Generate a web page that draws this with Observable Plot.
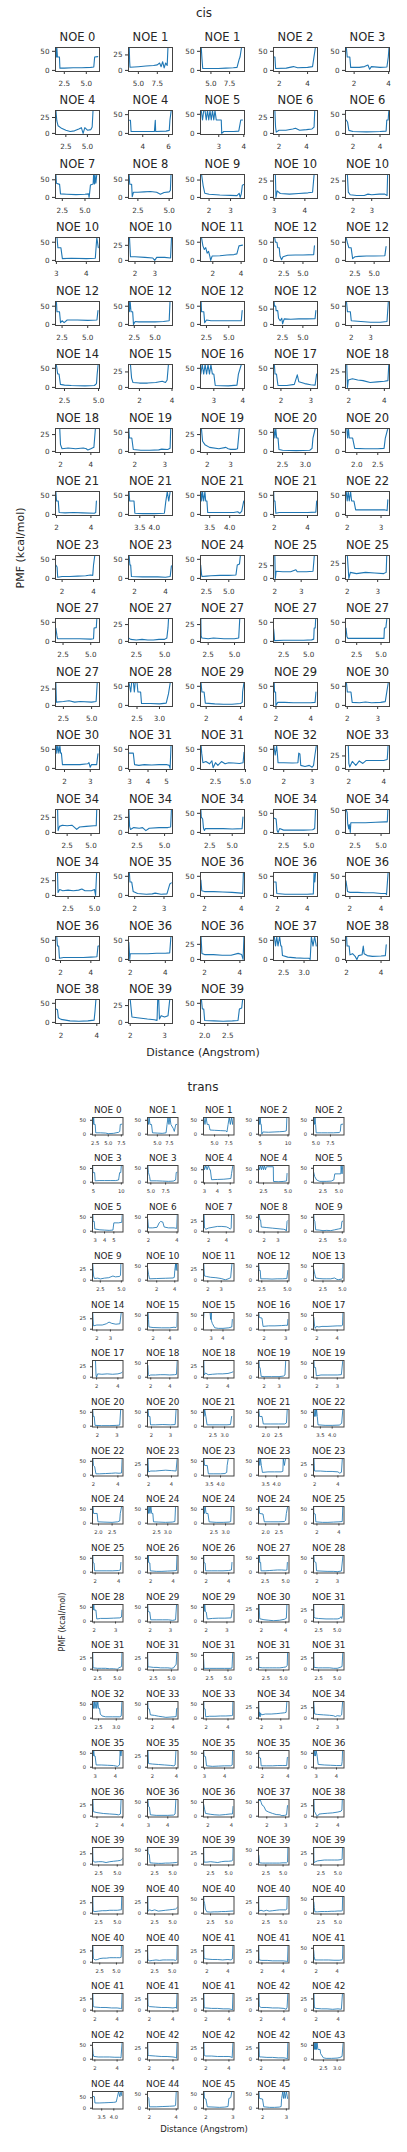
<!DOCTYPE html>
<html><head><meta charset="utf-8">
<script src="https://cdn.jsdelivr.net/npm/d3@7"></script>
<script src="https://cdn.jsdelivr.net/npm/@observablehq/plot@0.6"></script>
<style>
body{margin:0;background:#fff;}
#root{position:relative;width:407px;height:2152px;overflow:hidden;font-family:"DejaVu Sans",sans-serif;color:#262626;}
.lbl{position:absolute;white-space:nowrap;line-height:1;}
</style></head><body><div id="root"></div>
<script>
// ---------------- CIS DATA ----------------
const cisNoe = [0,1,1,2,3, 4,4,5,6,6, 7,8,9,10,10, 10,10,11,12,12, 12,12,12,12,13, 14,15,16,17,18, 18,19,19,20,20, 21,21,21,21,22, 23,23,24,25,25, 27,27,27,27,27, 27,28,29,29,30, 30,31,31,32,33, 34,34,34,34,34, 34,35,36,36,36, 36,36,36,37,38, 38,39,39];
const cisXDomain = [[1.5,6.5],[3.7,9.5],[3.6,9.5],[1.6,4.7],[1.5,4.05],
[1.3,6.4],[2.9,6.3],[2.27,4.03],[1.6,4.8],[1.45,4.7],
[1.75,6.6],[1.75,5.27],[1.6,3.65],[2.98,4.41],[1.6,3.95],
[2.97,4.44],[1.67,3.9],[1.13,4.24],[1.15,6.9],[1.27,7.0],
[1.86,6.15],[1.8,7.1],[1.83,6.76],[1.38,6.8],[1.7,3.98],
[1.84,5.07],[1.33,4.03],[2.54,4.06],[1.75,3.23],[1.81,4.29],
[1.67,4.57],[1.79,3.26],[1.71,3.6],[2.3,3.27],[1.73,2.78],
[1.94,4.5],[3.11,4.63],[3.27,4.37],[1.96,4.6],[1.95,3.25],
[1.58,4.38],[1.61,4.45],[1.83,6.76],[1.95,3.62],[1.94,3.39],
[1.82,5.79],[1.8,5.7],[1.77,5.95],[1.49,5.88],[1.35,5.87],
[1.8,5.7],[2.31,3.29],[1.67,4.23],[1.86,4.39],[1.94,3.39],
[1.65,3.36],[2.94,5.33],[1.25,4.92],[1.64,3.19],[1.81,4.33],
[1.28,5.89],[1.72,5.72],[1.46,6.37],[1.49,5.88],[1.59,5.81],
[1.31,5.47],[1.79,3.29],[1.78,4.18],[1.73,4.68],[1.72,4.54],
[1.67,4.57],[1.9,4.41],[1.77,4.26],[2.25,3.33],[1.94,4.49],
[1.69,4.15],[1.95,3.23],[1.91,2.86]];
const cisXTicks = [[2.5,5],[5,7.5],[5,7.5],[2,4],[2,4],
[2.5,5],[4,6],[3,4],[2,4],[2,4],
[2.5,5],[2.5,5],[2,3],[3,4],[2,3],
[3,4],[2,3],[2,4],[2.5,5],[2.5,5],
[2.5,5],[2.5,5],[2.5,5],[2.5,5],[2,3],
[2.5,5],[2,4],[3,4],[2,3],[2,4],
[2,4],[2,3],[2,3],[2.5,3],[2,2.5],
[2,4],[3.5,4],[3.5,4],[2,4],[2,3],
[2,4],[2,4],[2.5,5],[2,3],[2,3],
[2.5,5],[2.5,5],[2.5,5],[2.5,5],[2.5,5],
[2.5,5],[2.5,3],[2,4],[2,4],[2,3],
[2,3],[3,4,5],[2.5,5],[2,3],[2,4],
[2.5,5],[2.5,5],[2.5,5],[2.5,5],[2.5,5],
[2.5,5],[2,3],[2,4],[2,4],[2,4],
[2,4],[2,4],[2,4],[2.5,3],[2,4],
[2,4],[2,3],[2,2.5]];
const cisYMax = [60,37,60,60,60, 36,61,60,36,60, 65,66,66,35,35, 63,38,63,63,63, 63,63,63,75,63, 60,37,60,60,37, 34,60,34,60,60, 60,60,60,60,60, 60,60,60,45,38, 60,34,34,60,60, 35,60,60,60,60, 60,60,60,60,46, 38,38,60,60,52, 39,60,60,60,60, 60,60,38,60,60, 60,34,60];
const cisCurves = [
[[1.55,60],[1.6,35],[1.65,60],[1.72,35],[1.95,35],[2.0,6],[2.5,6],[3.5,7],[4.5,7],[5.5,8],[5.85,9],[5.95,35],[6.3,36]],
[[3.8,37],[3.85,15],[3.9,5],[5,6],[6,7],[7,8],[7.5,9],[7.8,12],[8.0,6],[8.2,14],[8.4,4],[8.6,12],[8.8,8],[8.9,37]],
[[3.7,60],[3.8,30],[3.9,5],[5,5],[6,5],[7,6],[8,7],[8.5,8],[8.8,30],[8.9,35],[9.1,60]],
[[1.62,35],[1.7,35],[1.75,5],[2.5,6],[3.0,10],[3.3,7],[4.0,8],[4.35,10],[4.45,35],[4.55,60]],
[[1.55,60],[1.6,35],[1.75,35],[1.8,8],[2.3,8],[2.6,10],[2.8,14],[2.9,3],[3.0,10],[3.5,8],[3.9,9],[3.98,35],[4.02,60]],
[[1.35,36],[1.45,20],[1.6,12],[2.0,8],[2.5,5],[3.0,3],[3.5,4],[4.0,7],[4.3,9],[4.5,0],[4.7,9],[5.0,5],[5.4,6],[5.55,10],[5.65,36]],
[[2.92,35],[3.05,35],[3.1,5],[4.0,5],[4.9,5],[4.97,35],[5.0,5],[5.8,6],[6.05,8],[6.1,35],[6.2,61]],
[[2.3,60],[2.35,35],[2.4,60],[2.45,60],[2.5,35],[2.55,60],[2.6,35],[2.65,60],[2.7,35],[2.75,60],[2.8,35],[2.85,60],[2.9,35],[3.1,35],[3.12,0],[3.2,5],[3.6,5],[3.8,6],[3.88,35],[3.95,35]],
[[1.7,36],[1.75,10],[1.8,2],[2.0,5],[2.5,5],[3.0,7],[3.2,8],[3.5,5],[4.0,6],[4.4,7],[4.55,10],[4.6,36]],
[[1.5,35],[1.6,30],[1.7,8],[2.0,5],[3.0,4],[4.0,5],[4.45,6],[4.5,35],[4.6,35],[4.65,60]],
[[1.8,65],[1.85,40],[2.2,37],[2.3,10],[3,9],[4,8],[5,9],[5.4,10],[5.45,0],[5.5,10],[5.6,35],[5.9,38],[5.95,65],[6.05,38],[6.1,65],[6.2,40],[6.3,65]],
[[1.8,66],[1.85,38],[2.0,38],[2.05,2],[2.15,15],[2.5,15],[3,16],[3.5,17],[4.0,15],[4.3,9],[4.6,14],[5.0,16],[5.1,20],[5.15,66]],
[[1.65,66],[1.72,35],[1.8,12],[2.0,9],[2.5,7],[3.0,6],[3.3,5],[3.4,12],[3.45,0],[3.5,10],[3.55,35],[3.62,37]],
[[3.04,35],[3.06,0],[3.1,10],[3.2,6],[3.5,5],[3.8,6],[4.1,7],[4.25,8],[4.3,35],[4.4,35]],
[[1.7,35],[1.75,8],[1.85,4],[2.2,3],[2.6,3],[2.8,5],[3.0,4],[3.4,5],[3.7,5],[3.82,3],[3.85,35]],
[[3.02,63],[3.05,35],[3.15,35],[3.2,5],[3.5,6],[4.0,5],[4.3,6],[4.35,63],[4.4,35]],
[[1.72,38],[1.77,6],[2.0,6],[2.5,5],[2.9,4],[3.0,0],[3.1,5],[3.5,5],[3.8,4],[3.85,38]],
[[1.2,63],[1.3,40],[1.4,30],[1.5,35],[1.6,20],[1.7,25],[1.8,10],[1.85,0],[1.95,12],[2.5,13],[3.0,15],[3.5,16],[3.7,18],[3.85,40],[4.1,42]],
[[1.3,63],[1.4,50],[1.6,50],[1.7,35],[1.9,35],[2.0,12],[2.2,2],[2.4,10],[3,14],[4,15],[5,15],[6.4,16],[6.5,40]],
[[1.35,63],[1.5,50],[1.7,35],[2.0,35],[2.2,5],[2.5,10],[3,11],[4,12],[5,12],[6.4,13],[6.55,38]],
[[1.95,63],[2.0,35],[2.25,35],[2.35,5],[2.5,10],[2.7,5],[3.0,12],[4,12],[5,11],[5.9,12],[6.0,38]],
[[1.85,63],[1.9,35],[2.0,63],[2.1,35],[2.3,35],[2.4,0],[2.6,8],[3,7],[4,7],[5,7],[6,8],[6.7,10],[6.8,63]],
[[1.9,63],[1.95,35],[2.2,35],[2.3,5],[2.5,12],[3,10],[4,10],[5,10],[6.4,10],[6.5,38]],
[[1.45,75],[1.5,60],[1.65,60],[1.7,45],[1.9,45],[2.0,20],[2.2,12],[2.4,20],[2.5,2],[2.7,18],[3.5,17],[4.5,18],[5.5,18],[6.5,19],[6.6,45]],
[[1.75,63],[1.8,35],[1.95,35],[2.0,10],[2.5,8],[3.0,6],[3.5,6],[3.85,8],[3.92,63]],
[[1.9,60],[2.0,35],[2.1,35],[2.2,8],[2.5,6],[3,5],[4,4],[4.7,5],[4.85,10],[4.9,35],[4.97,60]],
[[1.45,37],[1.52,15],[1.6,8],[2,7],[2.5,7],[3,8],[3.4,10],[3.6,8],[3.7,12],[3.78,37]],
[[2.55,35],[2.6,60],[2.65,35],[2.7,60],[2.75,35],[2.8,60],[2.85,35],[2.9,60],[2.95,35],[3.0,35],[3.05,5],[3.5,4],[3.8,6],[3.85,35],[3.95,60]],
[[1.78,60],[1.8,35],[1.85,35],[1.9,5],[2.2,5],[2.45,8],[2.55,33],[2.6,15],[2.8,10],[3.0,7],[3.15,6],[3.2,35]],
[[1.88,37],[1.92,0],[1.97,12],[2.2,14],[2.5,12],[2.8,11],[3.2,8],[3.6,9],[4.0,10],[4.2,11],[4.25,37]],
[[1.7,34],[1.95,34],[2.0,10],[2.1,4],[2.5,5],[3.0,4],[3.5,5],[3.7,4],[3.8,2],[4.0,4],[4.2,6],[4.3,34],[4.5,34]],
[[1.8,60],[1.82,35],[1.9,35],[1.95,5],[2.2,3],[2.5,3],[2.8,4],[2.9,6],[3.1,5],[3.18,8],[3.2,60]],
[[1.75,34],[1.8,15],[1.9,10],[2.1,6],[2.5,4],[2.8,6],[2.9,4],[3.0,3],[3.2,3],[3.3,4],[3.38,34]],
[[2.31,60],[2.33,35],[2.35,60],[2.37,35],[2.4,35],[2.42,5],[2.5,3],[2.8,2],[3.1,3],[3.15,8],[3.17,35],[3.22,60]],
[[1.76,60],[1.78,35],[1.8,60],[1.82,35],[1.9,35],[1.95,8],[2.2,7],[2.5,7],[2.65,8],[2.68,35],[2.74,60]],
[[1.96,60],[2.0,35],[2.1,35],[2.15,5],[2.5,4],[3,5],[3.5,4],[4.2,3],[4.28,5],[4.32,35]],
[[3.13,60],[3.15,35],[3.3,35],[3.33,3],[3.6,2],[4.0,2],[4.35,3],[4.4,35],[4.45,60],[4.5,35],[4.55,60]],
[[3.28,60],[3.3,35],[3.32,60],[3.35,35],[3.38,60],[3.4,35],[3.43,35],[3.45,5],[3.8,5],[4.1,5],[4.2,7],[4.25,3],[4.3,8],[4.35,35]],
[[1.97,60],[1.99,35],[2.05,35],[2.1,3],[2.3,5],[3,5],[4,5],[4.5,6],[4.55,35]],
[[1.97,60],[2.0,35],[2.03,60],[2.06,35],[2.1,60],[2.13,35],[2.2,35],[2.25,12],[2.5,12],[2.8,12],[3.1,12],[3.18,10],[3.2,38]],
[[1.6,35],[1.68,30],[1.72,3],[2.0,5],[2.5,5],[3,6],[3.5,7],[3.8,9],[3.95,8],[4.0,35],[4.08,60]],
[[1.65,60],[1.7,35],[1.75,35],[1.8,5],[2.5,4],[3,4],[3.5,4],[4.0,3],[4.3,5],[4.38,33]],
[[1.85,35],[1.95,10],[2.0,5],[2.5,6],[3,7],[4,8],[5,8],[5.8,9],[5.95,35],[6.2,38],[6.3,60]],
[[2.0,45],[2.02,0],[2.05,14],[2.3,13],[2.6,13],[2.8,17],[2.85,13],[3.2,13],[3.45,14],[3.5,45]],
[[2.0,38],[2.05,0],[2.1,10],[2.3,8],[2.6,10],[2.9,9],[3.2,8],[3.28,10],[3.3,38]],
[[1.85,35],[1.95,15],[2.0,7],[3,7],[4,7],[5,6],[5.25,7],[5.3,35],[5.5,36],[5.55,60]],
[[1.8,5],[2.0,3],[2.5,2],[3,3],[3.5,2],[4,2],[4.5,3],[5.0,3],[5.2,5],[5.3,20],[5.35,34]],
[[1.8,34],[1.83,8],[1.9,5],[2.5,4],[3,5],[4,4],[5,4],[5.4,5],[5.5,34]],
[[1.5,33],[1.55,20],[1.6,2],[2.5,3],[3.5,3],[4.5,3],[5.3,4],[5.5,6],[5.55,35],[5.65,35],[5.7,60]],
[[1.4,35],[1.5,12],[1.6,8],[2.5,8],[3.5,8],[4.5,8],[5.3,8],[5.35,35],[5.5,36],[5.6,60]],
[[1.83,35],[1.88,5],[2.5,6],[3,7],[3.5,5],[4,6],[5,5],[5.4,6],[5.5,35]],
[[2.32,60],[2.36,35],[2.38,60],[2.42,60],[2.44,35],[2.46,60],[2.5,60],[2.52,35],[2.58,35],[2.6,5],[2.8,5],[3.0,4],[3.15,6],[3.2,30],[3.24,60]],
[[1.7,60],[1.75,35],[1.88,35],[1.95,6],[2.5,4],[3,3],[3.5,3],[4.0,5],[4.1,8],[4.12,35],[4.2,60]],
[[1.9,60],[1.92,35],[1.98,35],[2.0,0],[2.1,8],[2.5,8],[3,7],[3.5,7],[4.0,7],[4.25,8],[4.3,35]],
[[1.97,60],[2.0,35],[2.12,35],[2.16,8],[2.4,7],[2.6,9],[2.8,7],[3.1,8],[3.25,10],[3.3,35],[3.35,60]],
[[1.68,60],[1.7,40],[1.74,60],[1.78,40],[1.82,60],[1.85,40],[1.88,40],[1.92,10],[2.3,10],[2.6,10],[2.9,12],[2.95,15],[3.0,3],[3.05,10],[3.25,10],[3.3,38]],
[[2.95,40],[3.2,40],[3.27,10],[3.5,8],[3.8,10],[4.2,9],[4.6,10],[5.0,10],[5.15,8],[5.2,0],[5.25,60]],
[[1.3,60],[1.35,40],[1.45,15],[1.7,18],[2.0,12],[2.2,20],[2.3,2],[2.5,15],[2.7,8],[3.0,18],[3.3,12],[3.6,15],[4.0,14],[4.5,13],[4.8,15],[4.88,42]],
[[1.65,60],[1.7,35],[1.75,60],[1.78,35],[1.8,15],[2.0,15],[2.3,14],[2.5,15],[2.53,40],[2.57,38],[2.6,8],[2.75,5],[2.9,8],[3.0,3],[3.05,8],[3.1,35],[3.15,60]],
[[1.83,46],[1.97,46],[2.0,10],[2.05,3],[2.2,14],[2.4,6],[2.6,15],[2.8,10],[3.0,16],[3.5,16],[4.0,16],[4.2,18],[4.25,46]],
[[1.4,38],[1.5,38],[1.55,3],[1.7,10],[2.0,12],[2.5,11],[3.0,12],[3.3,8],[3.5,5],[3.8,9],[4.5,10],[5.3,11],[5.55,11],[5.6,38]],
[[1.76,38],[1.82,10],[1.9,5],[2.2,8],[2.7,7],[3.0,8],[3.3,3],[3.6,7],[4.5,8],[5.3,8],[5.55,9],[5.62,38]],
[[1.5,60],[1.55,40],[1.7,35],[1.8,10],[1.9,5],[2.0,10],[3,10],[4,10],[5,9],[6.1,10],[6.2,40]],
[[1.52,38],[1.75,35],[1.85,5],[1.95,0],[2.1,10],[2.5,6],[3.5,6],[4.5,6],[5.4,7],[5.6,10],[5.68,60]],
[[1.65,52],[1.75,45],[1.8,20],[1.9,8],[1.95,18],[2.05,0],[2.1,22],[2.5,22],[3.5,22],[4.5,23],[5.4,24],[5.6,24],[5.65,52]],
[[1.35,39],[1.5,39],[1.55,5],[1.7,10],[2.0,8],[2.5,9],[3.0,8],[3.5,9],[3.8,11],[4.1,8],[4.7,8],[5.0,10],[5.1,0],[5.2,39]],
[[1.82,60],[1.84,35],[1.9,35],[1.95,10],[2.1,5],[2.4,3],[2.6,4],[2.7,6],[2.9,3],[3.1,4],[3.2,30],[3.25,33]],
[[1.8,40],[1.85,12],[2.0,10],[2.5,10],[3.0,9],[3.5,8],[4.0,6],[4.08,5],[4.12,60]],
[[1.75,35],[1.9,35],[1.95,5],[2.5,3],[3,3],[3.5,3],[4.0,3],[4.4,4],[4.45,60],[4.5,35],[4.55,60]],
[[1.75,38],[1.85,10],[2.0,8],[2.5,8],[3,7],[3.5,7],[4.0,5],[4.3,5],[4.35,2],[4.45,60]],
[[1.75,60],[1.8,35],[1.88,35],[1.93,3],[2.2,5],[3,5],[3.5,5],[4.0,6],[4.4,7],[4.47,35],[4.52,35]],
[[1.92,45],[1.95,20],[1.97,0],[2.0,15],[2.5,15],[3,15],[3.5,16],[4.0,16],[4.25,17],[4.32,60]],
[[1.8,38],[1.85,10],[2.0,8],[2.5,8],[3,7],[3.5,7],[3.9,10],[4.1,8],[4.18,0],[4.23,38]],
[[2.27,60],[2.3,35],[2.33,60],[2.36,35],[2.4,60],[2.43,35],[2.45,35],[2.47,10],[2.6,6],[2.8,4],[3.0,3],[3.12,3],[3.15,0],[3.18,60],[3.22,35],[3.26,60],[3.3,35]],
[[2.0,60],[2.03,35],[2.15,35],[2.2,12],[2.35,15],[2.5,8],[2.6,0],[2.7,10],[2.9,12],[2.97,35],[3.02,15],[3.2,10],[3.5,8],[4.0,9],[4.25,10],[4.3,38]],
[[1.72,35],[1.8,33],[1.85,12],[2.0,8],[2.5,4],[3.0,3],[3.5,4],[3.85,6],[3.9,30],[3.95,60]],
[[2.0,34],[2.05,8],[2.2,7],[2.5,5],[2.7,4],[2.78,3],[2.8,34],[2.83,34],[2.85,5],[2.9,10],[3.0,8],[3.1,10],[3.15,34]],
[[1.93,60],[1.95,35],[1.98,35],[2.0,5],[2.2,4],[2.4,3],[2.6,4],[2.72,5],[2.75,35],[2.8,38],[2.82,60]]
];

// ---------------- TRANS DATA ----------------
const transNoe = [0,1,1,2,2, 3,3,4,4,5, 5,6,7,8,9, 9,10,11,12,13, 14,15,15,16,17, 17,18,18,19,19, 20,20,21,21,22, 22,23,23,23,23, 24,24,24,24,25, 25,26,26,27,28, 28,29,29,30,31, 31,31,31,31,31, 32,33,33,34,34, 35,35,35,35,36, 36,36,36,37,38, 39,39,39,39,39, 39,40,40,40,40, 40,40,41,41,41, 41,41,41,42,42, 42,42,42,42,43, 44,44,45,45];
const transXDomain = [[1.98,7.82],[2.97,9.26],[3.04,8.45],[4.7,10.18],[4.59,9.83],
[4.82,10.3],[4.44,9.6],[2.92,5.29],[1.99,5.1],[1.01,5.8],
[2.71,5.98],[1.93,4.07],[1.43,4.87],[1.6,3.79],[1.27,5.22],
[1.57,5.2],[0.98,4.36],[1.68,3.95],[2.18,5.16],[1.27,5.22],
[1.68,3.93],[1.33,4.98],[2.34,4.94],[1.74,3.15],[1.67,4.67],
[1.62,4.48],[1.66,4.86],[1.65,4.58],[1.62,3.67],[1.83,3.33],
[1.74,3.32],[1.79,3.4],[2.1,3.4],[1.71,2.92],[3.21,4.5],
[1.92,4.42],[1.91,4.57],[3.23,4.61],[3.17,4.56],[1.91,4.52],
[1.78,2.9],[2.09,3.46],[2.06,3.36],[1.73,2.88],[1.69,4.46],
[1.77,4.38],[1.71,4.44],[1.76,4.48],[1.69,5.4],[1.83,3.33],
[1.92,3.35],[1.87,3.37],[1.87,3.34],[1.75,4.27],[1.82,5.91],
[1.85,5.73],[1.68,5.91],[1.68,5.82],[1.46,5.8],[1.82,5.91],
[2.33,3.19],[1.52,4.48],[1.75,4.55],[1.84,3.43],[1.79,3.34],
[2.87,4.37],[1.59,4.14],[2.95,4.47],[1.69,4.08],[2.87,4.37],
[1.65,4.05],[2.95,4.53],[1.63,4.23],[1.56,3.18],[1.68,4.58],
[1.68,5.77],[1.5,5.73],[1.53,5.74],[1.44,5.86],[1.4,5.9],
[1.68,5.77],[1.5,5.73],[1.55,5.68],[1.44,5.86],[1.4,5.9],
[1.42,5.98],[1.49,5.82],[1.68,4.58],[1.68,4.54],[1.75,4.66],
[1.79,4.53],[1.83,4.43],[1.79,4.44],[1.76,4.45],[1.76,4.54],
[1.79,4.53],[1.83,4.43],[1.79,4.44],[1.76,4.45],[2.14,3.25],
[3.12,4.38],[1.85,4.13],[1.91,3.04],[1.83,3.11]];
const transXTicks = [[2.5,5,7.5],[5,7.5],[5,7.5],[5,10],[5,7.5],
[5,10],[5,7.5],[3,4,5],[2.5,5],[2.5,5],
[3,4,5],[2,4],[2,4],[2,3],[2.5,5],
[2.5,5],[2,4],[2,3],[2.5,5],[2.5,5],
[2,3],[2,4],[3,4],[2,3],[2,4],
[2,4],[2,4],[2,4],[2,3],[2,3],
[2,3],[2,3],[2.5,3],[2,2.5],[3.5,4],
[2,4],[2,4],[3.5,4],[3.5,4],[2,4],
[2,2.5],[2.5,3],[2.5,3],[2,2.5],[2,4],
[2,4],[2,4],[2,4],[2.5,5],[2,3],
[2,3],[2,3],[2,3],[2,4],[2.5,5],
[2.5,5],[2.5,5],[2.5,5],[2.5,5],[2.5,5],
[2.5,3],[2,4],[2,4],[2,3],[2,3],
[3,4],[2,4],[3,4],[2,4],[3,4],
[2,4],[3,4],[2,4],[2,3],[2,4],
[2.5,5],[2.5,5],[2.5,5],[2.5,5],[2.5,5],
[2.5,5],[2.5,5],[2.5,5],[2.5,5],[2.5,5],
[2.5,5],[2.5,5],[2,4],[2,4],[2,4],
[2,4],[2,4],[2,4],[2,4],[2,4],
[2,4],[2,4],[2,4],[2,4],[2.5,3],
[3.5,4],[2,4],[2,3],[2,3]];
const transYMax = [60,60,60,60,60, 61,60,67,67,60, 60,60,42,60,60, 40,60,40,60,60, 40,60,60,60,60, 40,60,40,60,60, 60,60,60,60,60, 60,40,60,60,40, 60,60,60,60,60, 60,60,60,60,60, 60,60,60,34,37, 37,37,60,37,37, 60,60,60,40,40, 60,37,60,60,60, 37,60,60,60,40, 40,60,40,60,40, 40,40,60,40,60, 37,37,37,37,60, 37,37,37,37,37, 60,37,37,37,60, 80,60,60,60];
const transCurves = [
[[2.0,60],[2.1,35],[2.2,60],[2.3,35],[2.5,35],[2.6,5],[3.5,5],[4.5,4],[5.0,2],[6,3],[7.0,7],[7.2,10],[7.3,35],[7.6,36]],
[[3.0,60],[3.2,35],[3.3,60],[3.5,35],[3.8,35],[4.0,5],[5,4],[6,3],[6.8,5],[7.0,35],[7.2,60],[7.4,35],[7.6,60],[7.8,35],[8.3,20],[8.5,10],[8.8,35],[9.0,35]],
[[3.1,60],[3.3,35],[3.5,60],[3.7,35],[4.0,35],[4.2,15],[5,14],[6,13],[7,12],[7.2,8],[7.4,35],[7.6,60],[7.8,35],[8.0,60],[8.2,35],[8.35,60]],
[[4.8,60],[4.9,35],[5.0,60],[5.1,35],[5.2,35],[5.3,0],[5.5,8],[6.5,7],[7.5,8],[8.5,9],[9.3,10],[9.7,12],[9.8,60]],
[[4.65,60],[4.75,35],[4.85,60],[4.95,35],[5.05,5],[6,5],[7,5],[8,5],[9.0,6],[9.2,10],[9.3,35],[9.6,36]],
[[4.85,61],[4.9,35],[5.2,35],[5.3,5],[6,6],[7,6],[8,6],[9,6],[9.5,8],[9.7,35],[9.9,35],[10.0,61]],
[[4.5,60],[4.6,35],[4.8,20],[4.9,5],[6,5],[7,4],[8,3],[8.8,4],[9.2,8],[9.3,35],[9.5,36]],
[[2.95,67],[3.0,50],[3.1,67],[3.2,50],[3.3,67],[3.4,50],[3.45,50],[3.55,10],[4,11],[4.5,12],[4.9,14],[5.05,15],[5.1,35],[5.2,67]],
[[2.0,67],[2.1,50],[2.2,67],[2.3,50],[2.4,67],[2.5,50],[2.6,67],[2.7,50],[2.8,62],[3.5,62],[3.52,3],[4,2],[4.5,3],[4.85,5],[4.9,35]],
[[1.05,35],[1.2,20],[1.5,8],[2,3],[3,3],[3.8,4],[4.2,8],[4.35,30],[5.0,30],[5.3,30],[5.35,60],[5.5,30],[5.6,60]],
[[2.75,60],[2.78,35],[2.9,35],[2.95,8],[3.5,5],[4.0,4],[4.5,3],[4.9,4],[5.0,30],[5.5,30],[5.85,32],[5.9,60]],
[[1.95,42],[2.0,12],[2.3,12],[2.6,14],[2.75,30],[2.85,35],[3.0,33],[3.1,15],[3.4,12],[3.8,12],[3.98,10],[4.02,60]],
[[1.5,42],[1.55,8],[1.7,5],[2.0,8],[2.5,10],[3.0,12],[3.5,12],[4.0,11],[4.3,8],[4.45,5],[4.55,8],[4.6,42]],
[[1.65,60],[1.7,40],[1.75,40],[1.8,15],[2.2,13],[2.6,11],[3.0,9],[3.4,7],[3.55,5],[3.6,0],[3.65,35],[3.7,38]],
[[1.3,60],[1.35,40],[1.45,35],[1.55,5],[2.0,4],[2.5,2],[3.0,3],[3.5,2],[4.0,5],[4.5,8],[4.85,10],[4.95,35],[5.05,36]],
[[1.6,40],[1.7,10],[1.8,4],[2.2,5],[2.5,3],[3.0,5],[3.5,6],[4.0,10],[4.3,8],[4.8,9],[4.9,12],[4.95,40]],
[[1.0,42],[1.1,20],[1.2,5],[2,6],[3,7],[3.8,8],[3.95,10],[4.0,35],[4.1,60],[4.15,35],[4.2,60],[4.3,35]],
[[1.7,40],[1.75,10],[1.9,9],[2.2,7],[2.6,6],[3.0,4],[3.3,1],[3.5,3],[3.7,6],[3.8,40]],
[[2.2,60],[2.25,35],[2.35,35],[2.4,5],[3,5],[3.5,4],[4,5],[4.5,5],[4.95,6],[5.05,35]],
[[1.3,40],[1.45,20],[1.55,8],[2,6],[2.5,5],[3,5],[3.5,5],[4.0,8],[4.3,3],[4.5,2],[4.9,4],[5.05,8],[5.1,60]],
[[1.7,40],[1.75,8],[2.0,10],[2.4,10],[2.7,13],[2.9,17],[3.1,14],[3.4,12],[3.7,13],[3.8,40]],
[[1.4,60],[1.45,35],[1.5,8],[2,6],[3,5],[4,5],[4.5,7],[4.75,6],[4.85,10],[4.9,60]],
[[2.35,40],[2.38,60],[2.9,60],[2.95,35],[3.0,60],[3.02,30],[3.1,20],[3.3,5],[3.6,3],[4.0,3],[4.5,5],[4.75,8],[4.8,35]],
[[1.75,60],[1.78,42],[1.9,40],[1.95,10],[2.2,12],[2.5,12],[2.8,13],[3.0,14],[3.08,14],[3.1,35]],
[[1.7,42],[1.78,10],[1.85,3],[1.95,10],[2.2,8],[2.5,10],[3,10],[3.5,11],[4,12],[4.4,12],[4.52,14],[4.57,60]],
[[1.65,40],[1.9,40],[1.95,5],[2.0,0],[2.1,8],[2.5,7],[3,8],[3.5,7],[4.0,8],[4.3,10],[4.45,13]],
[[1.7,42],[1.75,10],[1.8,5],[2,8],[2.5,8],[3,9],[3.5,9],[4,8],[4.5,9],[4.7,10],[4.78,60]],
[[1.68,40],[1.72,5],[1.85,10],[2.1,6],[2.5,7],[3,8],[3.5,8],[4,9],[4.3,11],[4.5,13]],
[[1.65,60],[1.68,35],[1.72,35],[1.8,3],[2,2],[2.5,2],[3,2],[3.3,4],[3.4,8],[3.45,60]],
[[1.85,60],[1.87,35],[1.93,35],[1.97,5],[2.2,8],[2.5,8],[3.0,8],[3.2,9],[3.27,60]],
[[1.75,60],[1.78,35],[1.83,35],[1.87,3],[2.2,2],[2.6,2],[3.0,3],[3.15,4],[3.2,60]],
[[1.82,60],[1.85,35],[1.92,35],[1.95,5],[2.2,5],[2.6,6],[3.0,5],[3.25,6],[3.3,60]],
[[2.1,60],[2.12,35],[2.15,60],[2.2,35],[2.25,5],[2.5,5],[2.8,5],[3.1,5],[3.25,6],[3.3,35]],
[[1.72,60],[1.75,35],[1.85,35],[1.9,8],[2.2,8],[2.5,8],[2.75,8],[2.82,12],[2.85,60]],
[[3.22,60],[3.25,35],[3.28,60],[3.31,35],[3.34,60],[3.37,35],[3.4,5],[3.7,3],[4.0,3],[4.3,4],[4.4,10],[4.45,60]],
[[1.95,60],[2.0,35],[2.1,30],[2.2,5],[2.5,5],[3,6],[3.5,7],[3.8,8],[4.1,7],[4.3,8],[4.35,60]],
[[1.95,40],[2.0,8],[2.2,10],[2.6,10],[3,11],[3.5,12],[4,11],[4.4,10],[4.5,40]],
[[3.25,60],[3.28,35],[3.4,35],[3.45,5],[3.7,5],[4.0,5],[4.2,6],[4.28,10],[4.3,35],[4.35,60]],
[[3.2,60],[3.23,35],[3.26,60],[3.3,35],[3.35,10],[3.6,12],[3.9,12],[4.2,12],[4.28,14],[4.3,60],[4.35,35],[4.4,60]],
[[1.95,40],[2.0,10],[2.5,10],[3,9],[3.5,9],[4.0,8],[4.15,5],[4.3,7],[4.38,40]],
[[1.8,60],[1.82,35],[1.95,35],[1.98,5],[2.2,4],[2.5,3],[2.7,5],[2.78,8],[2.8,35],[2.85,60]],
[[2.1,60],[2.13,35],[2.16,60],[2.2,35],[2.24,60],[2.28,35],[2.33,35],[2.36,5],[2.6,4],[2.9,3],[3.2,4],[3.32,6],[3.35,60]],
[[2.07,60],[2.1,35],[2.13,60],[2.17,35],[2.25,35],[2.3,5],[2.6,3],[2.9,3],[3.15,4],[3.22,6],[3.25,60]],
[[1.75,60],[1.77,35],[1.9,33],[1.95,5],[2.2,5],[2.5,5],[2.7,6],[2.75,10],[2.78,35],[2.83,60]],
[[1.7,60],[1.72,35],[1.85,33],[1.9,5],[2.5,3],[3,3],[3.5,4],[4.0,5],[4.3,6],[4.35,60]],
[[1.8,60],[1.82,35],[1.9,33],[1.95,5],[2.5,5],[3,5],[3.5,5],[4.0,6],[4.15,8],[4.2,35]],
[[1.72,60],[1.75,35],[1.78,60],[1.82,35],[1.92,33],[1.96,5],[2.5,3],[3,3],[3.5,4],[4.0,5],[4.3,6],[4.35,60]],
[[1.78,60],[1.8,35],[1.9,33],[1.95,5],[2.5,5],[3,5],[3.5,5],[4.0,6],[4.25,8],[4.3,35]],
[[1.7,60],[1.75,35],[1.8,60],[1.85,35],[1.95,35],[2.0,5],[2.5,5],[3,6],[3.5,7],[4,8],[4.5,8],[5.0,7],[5.15,8],[5.2,35]],
[[1.85,60],[1.87,38],[1.95,35],[1.98,5],[2.2,4],[2.5,3],[2.8,3],[3.0,2],[3.2,4],[3.28,60]],
[[1.93,60],[1.95,40],[1.98,60],[2.0,40],[2.08,40],[2.12,8],[2.3,10],[2.6,10],[2.9,11],[3.2,12],[3.28,15],[3.3,40]],
[[1.88,60],[1.9,35],[1.98,33],[2.03,5],[2.3,5],[2.6,5],[2.9,5],[3.1,3],[3.25,5],[3.3,60]],
[[1.88,60],[1.9,35],[1.93,60],[1.96,35],[2.0,33],[2.05,8],[2.3,10],[2.6,11],[2.9,11],[3.2,12],[3.25,40]],
[[1.8,34],[1.85,5],[2.2,3],[2.6,2],[3,1],[3.5,2],[3.9,4],[4.05,6],[4.1,34]],
[[1.85,37],[1.9,10],[2.0,7],[2.5,6],[3.5,5],[4.5,5],[5.0,5],[5.3,6],[5.5,10],[5.6,6],[5.7,12],[5.75,37]],
[[1.88,37],[1.93,3],[2.5,2],[3,2],[3.5,2],[4,1],[4.5,1],[5.0,0],[5.2,3],[5.45,5],[5.55,6],[5.6,37]],
[[1.7,37],[1.75,5],[2.0,5],[2.5,4],[3,4],[3.5,3],[4,3],[4.5,3],[5.0,2],[5.3,3],[5.5,8],[5.65,10],[5.75,37]],
[[1.7,35],[1.73,20],[1.76,3],[2.5,3],[3.5,3],[4.5,3],[5.3,3],[5.55,4],[5.65,60]],
[[1.48,37],[1.53,4],[2,3],[2.5,3],[3,3],[3.5,3],[4,3],[4.5,3],[5.0,4],[5.35,5],[5.55,8],[5.6,37]],
[[1.85,37],[1.9,4],[2.5,3],[3,3],[3.5,3],[4,3],[4.5,2],[5,2],[5.4,4],[5.65,6],[5.75,37]],
[[2.34,60],[2.36,35],[2.38,60],[2.4,35],[2.43,60],[2.45,35],[2.48,60],[2.5,35],[2.53,35],[2.55,15],[2.6,8],[2.7,5],[2.9,5],[3.1,5],[3.14,8],[3.16,60]],
[[1.55,60],[1.58,35],[1.7,33],[1.8,12],[2.2,10],[2.6,7],[3.0,5],[3.3,3],[3.7,4],[4.1,5],[4.3,6],[4.35,35],[4.45,36]],
[[1.78,60],[1.8,35],[1.9,33],[1.95,5],[2.3,7],[2.8,7],[3.3,8],[3.8,8],[4.3,9],[4.42,10],[4.45,60]],
[[1.85,40],[1.88,5],[1.9,15],[1.92,3],[1.95,12],[2.0,8],[2.2,10],[2.5,10],[2.8,11],[3.0,12],[3.2,13],[3.28,14],[3.32,40]],
[[1.8,40],[1.85,10],[2.0,9],[2.3,8],[2.6,7],[2.8,6],[2.9,4],[3.0,6],[3.15,5],[3.22,8],[3.27,40]],
[[2.88,60],[2.9,40],[2.93,60],[2.96,40],[3.0,40],[3.05,8],[3.3,8],[3.6,7],[3.9,6],[4.1,3],[4.2,8],[4.23,60],[4.27,40],[4.3,60]],
[[1.63,37],[1.68,8],[2.0,7],[2.5,6],[3.0,5],[3.5,4],[3.8,3],[3.9,5],[3.97,37]],
[[2.96,60],[2.98,40],[3.05,38],[3.1,5],[3.4,3],[3.7,4],[4.0,5],[4.3,5],[4.38,8],[4.4,60]],
[[1.7,60],[1.72,35],[1.85,33],[1.9,5],[2.3,5],[2.8,5],[3.2,6],[3.6,6],[3.9,6],[3.95,35],[4.0,35]],
[[2.88,60],[2.9,40],[2.93,60],[2.97,40],[3.0,60],[3.05,40],[3.1,10],[3.4,8],[3.7,7],[4.0,6],[4.25,6],[4.28,20],[4.3,60]],
[[1.68,37],[1.72,10],[2.0,8],[2.5,6],[3.0,5],[3.5,4],[3.7,3],[3.85,5],[3.9,37]],
[[2.97,60],[3.0,35],[3.05,33],[3.1,5],[3.4,3],[3.7,3],[4.0,3],[4.3,4],[4.38,8],[4.42,60]],
[[1.65,42],[1.72,25],[1.8,10],[2.2,7],[2.6,5],[3.0,4],[3.5,6],[3.9,8],[4.1,8],[4.15,35]],
[[1.58,60],[1.6,55],[1.65,60],[1.7,50],[1.75,40],[1.85,35],[1.95,20],[2.1,15],[2.3,10],[2.5,6],[2.7,5],[2.8,2],[2.95,3],[3.05,5],[3.1,38]],
[[1.72,40],[1.76,12],[1.85,8],[1.95,3],[2.05,0],[2.2,5],[2.5,6],[3.0,7],[3.5,8],[4.0,10],[4.3,12],[4.38,15],[4.42,40]],
[[1.7,40],[1.75,8],[2.0,5],[2.5,6],[3.0,6],[3.5,4],[4.0,6],[4.5,7],[5.0,8],[5.4,9],[5.6,11],[5.75,15]],
[[1.55,60],[1.58,38],[1.75,35],[1.85,5],[2.3,4],[3,3],[3.5,3],[4,4],[4.5,4],[5,5],[5.5,6],[5.7,8]],
[[1.55,40],[1.6,5],[2,5],[2.5,6],[3.0,5],[3.5,4],[4.0,6],[4.5,7],[5.0,7],[5.45,8],[5.58,10],[5.62,40]],
[[1.45,35],[1.5,30],[1.58,5],[2,4],[2.5,4],[3,4],[3.5,4],[4,4],[4.5,4],[5,5],[5.5,5],[5.65,8],[5.7,60]],
[[1.43,40],[1.48,4],[1.7,6],[2.0,8],[2.5,9],[3.0,10],[3.5,10],[4.0,10],[4.5,10],[5.0,10],[5.5,11],[5.62,12],[5.68,40]],
[[1.72,40],[1.77,5],[2,4],[2.5,5],[3,6],[3.5,6],[4,7],[4.5,7],[5,7],[5.4,8],[5.55,8],[5.6,40]],
[[1.55,40],[1.58,5],[1.8,8],[2.1,6],[2.5,8],[3,5],[3.5,6],[4,7],[4.5,8],[5,9],[5.4,10],[5.7,15]],
[[1.58,60],[1.6,45],[1.7,35],[1.8,15],[2.0,5],[2.5,4],[3,5],[3.5,5],[4,6],[4.5,6],[5,7],[5.6,8]],
[[1.46,40],[1.5,5],[1.8,7],[2.2,5],[2.6,7],[3,5],[3.5,6],[4,7],[4.5,8],[5,8],[5.4,8],[5.55,10],[5.6,40]],
[[1.45,40],[1.52,20],[1.6,5],[2,5],[2.5,6],[3,6],[3.5,6],[4,7],[4.5,7],[5,8],[5.5,8],[5.65,9],[5.7,60]],
[[1.48,37],[1.55,8],[1.8,5],[2.2,6],[2.5,8],[3,9],[3.5,9],[4,10],[4.5,10],[5,10],[5.5,10],[5.7,11],[5.75,37]],
[[1.5,37],[1.55,5],[1.8,3],[2.2,4],[2.7,5],[3.2,4],[3.7,5],[4.2,5],[4.7,5],[5.2,5],[5.5,4],[5.65,6],[5.7,37]],
[[1.7,37],[1.74,8],[2,7],[2.5,6],[3,6],[3.5,5],[4,6],[4.3,5],[4.42,7],[4.48,37]],
[[1.7,37],[1.74,5],[2,4],[2.5,4],[3,3],[3.5,3],[4,3],[4.3,2],[4.4,1],[4.45,37]],
[[1.77,42],[1.82,20],[1.88,8],[2.2,8],[2.7,8],[3.2,8],[3.7,7],[4.2,7],[4.45,8],[4.52,12],[4.55,60]],
[[1.82,37],[1.86,8],[2,7],[2.5,6],[3,6],[3.5,5],[4,5],[4.3,4],[4.4,3],[4.45,37]],
[[1.85,37],[1.88,10],[2,8],[2.5,7],[3,6],[3.5,6],[4,5],[4.25,6],[4.3,4],[4.35,37]],
[[1.82,37],[1.86,5],[2,5],[2.5,4],[3,4],[3.5,3],[4,3],[4.2,2],[4.3,0],[4.35,37]],
[[1.8,37],[1.84,8],[2,6],[2.5,6],[3,5],[3.5,5],[4,4],[4.2,2],[4.28,6],[4.35,37]],
[[1.8,37],[1.85,5],[2,4],[2.5,3],[3,3],[3.5,2],[4,3],[4.3,2],[4.4,37]],
[[1.8,42],[1.85,20],[1.9,10],[2.3,8],[2.8,8],[3.3,8],[3.8,7],[4.2,7],[4.35,5],[4.45,60]],
[[1.85,37],[1.88,8],[2,8],[2.5,7],[3,6],[3.5,6],[4,5],[4.2,4],[4.3,2],[4.35,37]],
[[1.82,37],[1.86,8],[2,7],[2.5,7],[3,6],[3.5,6],[4,6],[4.2,5],[4.28,3],[4.35,37]],
[[1.8,37],[1.84,5],[2,5],[2.5,4],[3,4],[3.5,3],[4,3],[4.2,2],[4.3,0],[4.35,37]],
[[2.15,60],[2.17,35],[2.19,60],[2.21,35],[2.23,60],[2.25,35],[2.27,60],[2.3,35],[2.38,35],[2.4,20],[2.5,5],[2.6,3],[2.8,3],[3.0,4],[3.1,6],[3.18,10],[3.22,60]],
[[3.13,57],[3.2,55],[3.22,25],[3.4,25],[3.6,26],[3.8,27],[4.0,28],[4.1,30],[4.15,55],[4.2,80],[4.25,55],[4.3,80],[4.33,60]],
[[1.87,40],[1.95,35],[2.0,5],[2.5,5],[3,6],[3.5,7],[3.85,8],[3.95,10],[4.0,60]],
[[1.93,60],[1.95,35],[2.0,33],[2.05,5],[2.3,4],[2.5,3],[2.7,4],[2.82,6],[2.85,35],[2.92,38],[2.96,60]],
[[1.85,60],[1.87,35],[2.0,33],[2.05,5],[2.3,3],[2.5,3],[2.7,4],[2.78,6],[2.8,35],[2.85,60],[2.88,35],[2.92,60],[2.95,35],[3.0,60],[3.05,35]]
];

// ---------------- LAYOUT ----------------
const root = document.getElementById("root");
const FONT = "DejaVu Sans";

function drawGroup(cfg, noes, xDomains, xTicks, yMaxes, curves) {
  noes.forEach((n, i) => {
    const col = i % 5, row = Math.floor(i / 5);
    const left = cfg.x0 + col * cfg.dx, top = cfg.y0 + row * cfg.dy;
    const ymax = yMaxes[i];
    const yt = ymax > 50 ? [0, 50] : [0, 25];
    const xt = xTicks[i];
    const dec = xt.some(v => Math.abs(v - Math.round(v)) > 1e-9);
    const svg = Plot.plot({
      width: cfg.w + cfg.ml + cfg.mr,
      height: cfg.h + cfg.mt + cfg.mb,
      marginLeft: cfg.ml, marginRight: cfg.mr, marginTop: cfg.mt, marginBottom: cfg.mb,
      style: {background: "none", color: "#333", fontFamily: FONT, fontSize: cfg.tickFont + "px", overflow: "visible"},
      x: {domain: xDomains[i], ticks: xt, tickFormat: v => dec ? v.toFixed(1) : String(v), tickSize: cfg.ts, tickPadding: cfg.tpx, label: null},
      y: {domain: [-ymax * 0.05 / 1.05, ymax], ticks: yt, tickFormat: v => String(v), tickSize: cfg.ts, tickPadding: cfg.tpy, label: null},
      marks: [
        Plot.line(curves[i], {x: d => d[0], y: d => d[1], stroke: "#1f77b4", strokeWidth: cfg.lw, clip: true}),
        Plot.frame({stroke: "#444", strokeWidth: 1}),
        Plot.text(["NOE " + n], {frameAnchor: "top", text: d => d, dy: -cfg.tdy, lineAnchor: "bottom", fontSize: cfg.titleFont, fill: "#262626"})
      ]
    });
    svg.style.position = "absolute";
    svg.style.left = (left - cfg.ml) + "px";
    svg.style.top = (top - cfg.mt) + "px";
    root.appendChild(svg);
  });
}

function addLabel(text, x, y, size, rotate) {
  const d = document.createElement("div");
  d.className = "lbl";
  d.textContent = text;
  d.style.fontSize = size + "px";
  d.style.left = x + "px";
  d.style.top = y + "px";
  d.style.transform = "translate(-50%,-50%)" + (rotate ? " rotate(-90deg)" : "");
  root.appendChild(d);
}

drawGroup({x0: 55, dx: 72.5, y0: 46.7, dy: 63.5, w: 44, h: 24, ml: 24, mr: 8, mt: 20, mb: 20,
  tickFont: 7.2, titleFont: 11.5, ts: 3, tpx: 6.5, tpy: 3, tdy: 6.5, lw: 1.1}, cisNoe, cisXDomain, cisXTicks, cisYMax, cisCurves);
drawGroup({x0: 91.7, dx: 55.4, y0: 1116.7, dy: 48.7, w: 30.5, h: 17.5, ml: 18, mr: 6, mt: 15, mb: 14,
  tickFont: 5.2, titleFont: 8.9, ts: 2, tpx: 4, tpy: 4.5, tdy: 5, lw: 0.85}, transNoe, transXDomain, transXTicks, transYMax, transCurves);

addLabel("cis", 204, 13, 12, false);
addLabel("Distance (Angstrom)", 203, 1052, 11, false);
addLabel("PMF (kcal/mol)", 20, 548, 11, true);
addLabel("trans", 203, 1087, 12, false);
addLabel("Distance (Angstrom)", 204, 2129, 8.5, false);
addLabel("PMF (kcal/mol)", 63, 1622, 8, true);
</script></body></html>
